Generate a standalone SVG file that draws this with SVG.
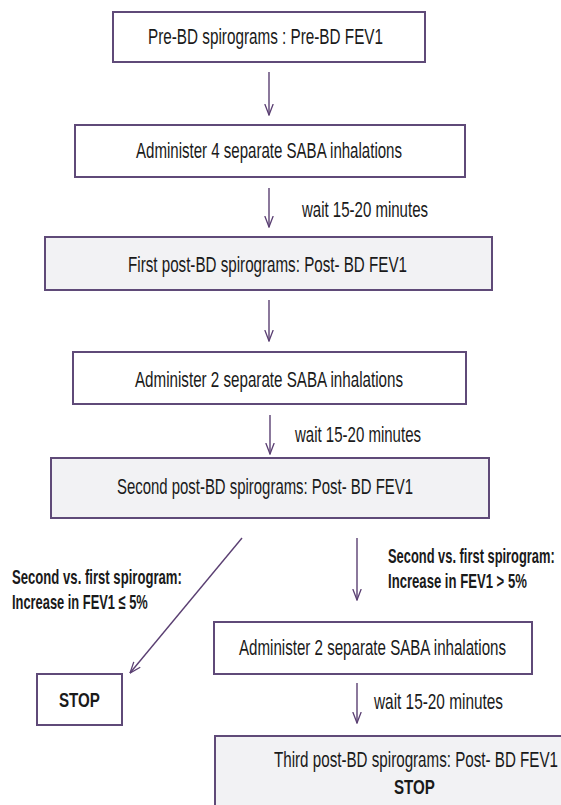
<svg xmlns="http://www.w3.org/2000/svg" width="561" height="805" viewBox="0 0 561 805">
<style>
.box{fill:#ffffff;stroke:#5f4a78;stroke-width:2}
.gbox{fill:#f2f2f4;stroke:#5f4a78;stroke-width:2}
.t{font-family:"Liberation Sans",Arial,sans-serif;font-size:22px;fill:#1a1a1a}
.b{font-family:"Liberation Sans",Arial,sans-serif;font-size:21px;font-weight:bold;fill:#1a1a1a}
.c{stroke:#5a3f72;stroke-width:1.4;fill:none;marker-end:url(#ah)}
</style>
<defs>
<marker id="ah" viewBox="0 0 12 10" refX="11.5" refY="5" markerWidth="12" markerHeight="10" markerUnits="userSpaceOnUse" orient="auto">
<path d="M0.5,0.8 L11.5,5 L0.5,9.2" fill="none" stroke="#5a3f72" stroke-width="1.3"/>
</marker>
</defs>
<rect width="561" height="805" fill="#ffffff"/>
<g id="connectors">
<line class="c" x1="269" y1="72" x2="269" y2="115"/>
<line class="c" x1="269" y1="188" x2="269" y2="227"/>
<line class="c" x1="269" y1="300" x2="269" y2="341"/>
<line class="c" x1="270" y1="415" x2="270" y2="454"/>
<line class="c" x1="242" y1="538" x2="130" y2="673"/>
<line class="c" x1="357" y1="538" x2="357" y2="600"/>
<line class="c" x1="357" y1="683" x2="357" y2="723"/>
<text class="t" transform="translate(302,217) scale(0.69,1)" textLength="182.6" lengthAdjust="spacingAndGlyphs">wait 15-20 minutes</text>
<text class="t" transform="translate(295,442) scale(0.69,1)" textLength="182.6" lengthAdjust="spacingAndGlyphs">wait 15-20 minutes</text>
<text class="t" transform="translate(374,709) scale(0.69,1)" textLength="187" lengthAdjust="spacingAndGlyphs">wait 15-20 minutes</text>
<text class="b" transform="translate(12,584) scale(0.62,1)" textLength="274" lengthAdjust="spacingAndGlyphs">Second vs. first spirogram:</text>
<text class="b" transform="translate(12,609) scale(0.62,1)" textLength="219" lengthAdjust="spacingAndGlyphs">Increase in FEV1 ≤ 5%</text>
<text class="b" transform="translate(388,563) scale(0.62,1)" textLength="269" lengthAdjust="spacingAndGlyphs">Second vs. first spirogram:</text>
<text class="b" transform="translate(388,588) scale(0.62,1)" textLength="224" lengthAdjust="spacingAndGlyphs">Increase in FEV1 &gt; 5%</text>
</g>
<g id="n1">
<rect class="box" x="113" y="12" width="312" height="50"/>
<text class="t" transform="translate(148,44) scale(0.69,1)" textLength="340.6" lengthAdjust="spacingAndGlyphs">Pre-BD spirograms : Pre-BD FEV1</text>
</g>
<g id="n2">
<rect class="box" x="75" y="125" width="390" height="52"/>
<text class="t" transform="translate(136,158) scale(0.69,1)" textLength="385.5" lengthAdjust="spacingAndGlyphs">Administer 4 separate SABA inhalations</text>
</g>
<g id="n3">
<rect class="gbox" x="45" y="237" width="447" height="53"/>
<text class="t" transform="translate(128,272) scale(0.69,1)" textLength="404.3" lengthAdjust="spacingAndGlyphs">First post-BD spirograms: Post- BD FEV1</text>
</g>
<g id="n4">
<rect class="box" x="73" y="352" width="393" height="52"/>
<text class="t" transform="translate(135,387) scale(0.69,1)" textLength="388.4" lengthAdjust="spacingAndGlyphs">Administer 2 separate SABA inhalations</text>
</g>
<g id="n5">
<rect class="gbox" x="51" y="458" width="438" height="60"/>
<text class="t" transform="translate(117,494) scale(0.69,1)" textLength="429" lengthAdjust="spacingAndGlyphs">Second post-BD spirograms: Post- BD FEV1</text>
</g>
<g id="n6">
<rect class="box" x="37" y="674" width="85" height="51"/>
<text class="b" transform="translate(59,707) scale(0.62,1)" textLength="66" lengthAdjust="spacingAndGlyphs">STOP</text>
</g>
<g id="n7">
<rect class="box" x="214" y="622" width="318" height="52"/>
<text class="t" transform="translate(239,655) scale(0.69,1)" textLength="387" lengthAdjust="spacingAndGlyphs">Administer 2 separate SABA inhalations</text>
</g>
<g id="n8">
<rect class="gbox" x="215" y="736" width="360" height="80"/>
<text class="t" transform="translate(274,767) scale(0.69,1)" textLength="411.6" lengthAdjust="spacingAndGlyphs">Third post-BD spirograms: Post- BD FEV1</text>
<text class="b" transform="translate(394,794) scale(0.62,1)" textLength="66" lengthAdjust="spacingAndGlyphs">STOP</text>
</g>
</svg>
